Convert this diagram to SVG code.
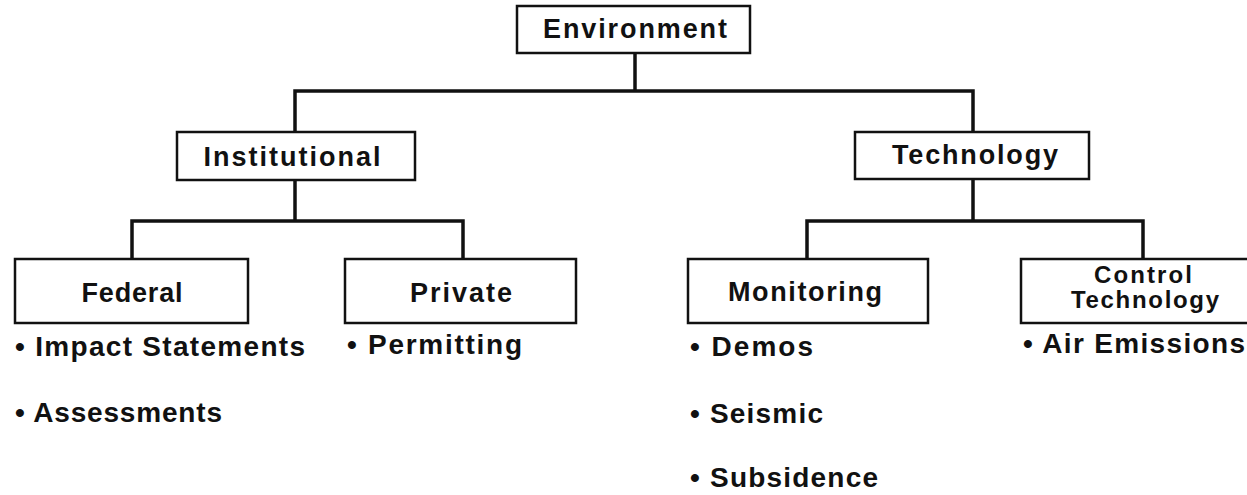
<svg xmlns="http://www.w3.org/2000/svg" width="1247" height="495" viewBox="0 0 1247 495">
<style>
.box{fill:#fff;stroke:#111;stroke-width:2.5}
.lbl{font-family:"Liberation Sans",Arial,sans-serif;font-weight:bold;font-size:27px;fill:#111;text-anchor:middle}
.lbl2{font-family:"Liberation Sans",Arial,sans-serif;font-weight:bold;font-size:24px;fill:#111;text-anchor:middle}
.item{font-family:"Liberation Sans",Arial,sans-serif;font-weight:bold;font-size:28px;fill:#111}
.conn{fill:none;stroke:#111;stroke-width:3.5;stroke-linejoin:miter}
</style>
<rect width="1247" height="495" fill="#fff"/>
<g id="connectors">
<path class="conn" d="M635,53 V91"/>
<path class="conn" d="M295,132 V91 H973 V132"/>
<path class="conn" d="M295,180 V221"/>
<path class="conn" d="M132,259 V221 H463 V259"/>
<path class="conn" d="M973,179 V221"/>
<path class="conn" d="M807,259 V221 H1143 V259"/>
</g>
<g id="environment">
<rect class="box" x="517" y="6" width="233" height="47"/>
<text class="lbl" x="635" y="38" textLength="184" lengthAdjust="spacing">Environment</text>
</g>
<g id="institutional">
<rect class="box" x="177" y="132" width="238" height="48"/>
<text class="lbl" x="292" y="166" textLength="177" lengthAdjust="spacing">Institutional</text>
</g>
<g id="technology">
<rect class="box" x="855" y="132" width="234" height="47"/>
<text class="lbl" x="975" y="164" textLength="166" lengthAdjust="spacing">Technology</text>
</g>
<g id="federal">
<rect class="box" x="15" y="259" width="233" height="64"/>
<text class="lbl" x="132" y="302" textLength="101" lengthAdjust="spacing">Federal</text>
<text class="item" x="15" y="356" textLength="290" lengthAdjust="spacing">• Impact Statements</text>
<text class="item" x="15" y="422" textLength="207" lengthAdjust="spacing">• Assessments</text>
</g>
<g id="private">
<rect class="box" x="345" y="259" width="231" height="64"/>
<text class="lbl" x="461" y="302" textLength="102" lengthAdjust="spacing">Private</text>
<text class="item" x="347" y="354" textLength="175" lengthAdjust="spacing">• Permitting</text>
</g>
<g id="monitoring">
<rect class="box" x="688" y="259" width="240" height="64"/>
<text class="lbl" x="805" y="301" textLength="154" lengthAdjust="spacing">Monitoring</text>
<text class="item" x="690" y="356" textLength="123" lengthAdjust="spacing">• Demos</text>
<text class="item" x="690" y="423" textLength="133" lengthAdjust="spacing">• Seismic</text>
<text class="item" x="690" y="487" textLength="188" lengthAdjust="spacing">• Subsidence</text>
</g>
<g id="control-technology">
<rect class="box" x="1021" y="259" width="245" height="64"/>
<text class="lbl2" x="1143" y="283" textLength="98" lengthAdjust="spacing">Control</text>
<text class="lbl2" x="1145" y="308" textLength="148" lengthAdjust="spacing">Technology</text>
<text class="item" x="1023" y="353" textLength="222" lengthAdjust="spacing">• Air Emissions</text>
</g>
</svg>
